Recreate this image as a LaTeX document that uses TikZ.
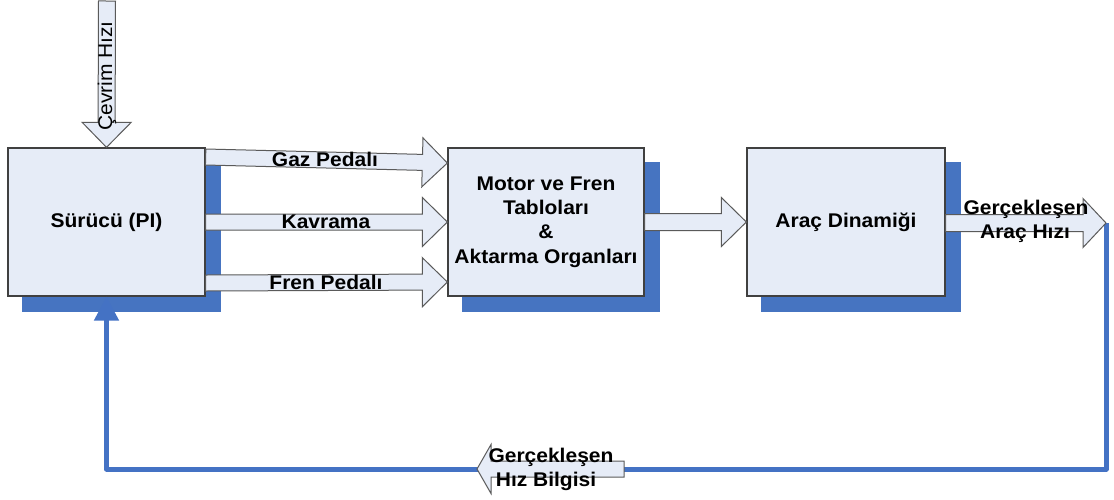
\documentclass[tikz,border=0pt]{standalone}
\usepackage{fontspec}
\setmainfont{Liberation Sans}[FakeStretch=1.06]
\usetikzlibrary{calc,arrows.meta,backgrounds}
\definecolor{boxfill}{HTML}{E6ECF7}
\definecolor{boxline}{HTML}{404040}
\definecolor{arrline}{HTML}{5A5A5A}
\definecolor{fbblue}{HTML}{4472C4}
\definecolor{shadowblue}{HTML}{4674C1}
\tikzset{
  box/.style={draw=boxline, fill=boxfill, line width=1.3pt, align=center,
    font=\bfseries\fontsize{19.8}{24.3}\selectfont, inner sep=0pt},
  shadowbox/.style={fill=shadowblue},
  blockarrow/.style={draw=arrline, fill=boxfill, line width=1pt, line join=miter},
  lbl/.style={font=\bfseries\fontsize{19.8}{24.3}\selectfont, inner sep=0pt, align=center},
  vlbl/.style={font=\fontsize{19.8}{24.3}\selectfont, inner sep=0pt, rotate=90},
  fb/.style={draw=fbblue, line width=5pt, line join=round,
    -{Triangle[length=24pt,width=24pt]}}
}
\newcommand\blockarr[5]{%
  \coordinate (bh) at ($(#2)!#5!(#1)$);
  \filldraw[blockarrow] ($(#1)!#3!90:(#2)$) -- ($(bh)!#3!90:(#2)$) -- ($(bh)!#4!90:(#2)$)
    -- (#2) -- ($(bh)!#4!-90:(#2)$) -- ($(bh)!#3!-90:(#2)$) -- ($(#1)!#3!-90:(#2)$) -- cycle;}
\begin{document}
\begin{tikzpicture}[x=1pt,y=-1pt]
\useasboundingbox (0,0) rectangle (1114,499);
% boxes
\node[box, minimum width=197pt, minimum height=148pt] (s) at (106.5,222) {Sürücü (PI)};
\node[box, minimum width=196pt, minimum height=148pt] (m) at (546,222)
  {Motor ve Fren\\Tabloları\\\&\\Aktarma Organları};
\node[box, minimum width=198pt, minimum height=148pt] (a) at (846,222) {Araç Dinamiği};
% shadows
\begin{scope}[on background layer]
\fill[shadowbox] ($(s.north west)+(15,15)$) rectangle ($(s.south east)+(15,15)$);
\fill[shadowbox] ($(m.north west)+(15,15)$) rectangle ($(m.south east)+(15,15)$);
\fill[shadowbox] ($(a.north west)+(15,15)$) rectangle ($(a.south east)+(15,15)$);
\end{scope}
% coordinates
\coordinate (cvA) at (107,1);
\coordinate (cvB) at (s.north);
\coordinate (gzA) at (s.east |- 0,157);
\coordinate (gzB) at (m.west |- 0,163);
\coordinate (kvA) at (s.east |- 0,222);
\coordinate (kvB) at (m.west |- 0,222);
\coordinate (frA) at (s.east |- 0,283);
\coordinate (frB) at (m.west |- 0,282);
\coordinate (mA) at (m.east);
\coordinate (mB) at (a.west);
\coordinate (oA) at (a.east |- 0,223);
\coordinate (outtip) at (1106,223);
\coordinate (fbrow) at (0,469);
\coordinate (fbA) at (624,469);
\coordinate (fbB) at (477,469);
% feedback line
\draw[fb] (outtip) |- (fbrow -| s.south) -- (s.south);
% block arrows
\blockarr{cvA}{cvB}{8.5pt}{24.5pt}{25pt}
\blockarr{gzA}{gzB}{8pt}{24.5pt}{25pt}
\blockarr{kvA}{kvB}{8pt}{24.5pt}{25pt}
\blockarr{frA}{frB}{8pt}{24.5pt}{25pt}
\blockarr{mA}{mB}{8.5pt}{24.5pt}{25pt}
\blockarr{oA}{outtip}{8.5pt}{24.5pt}{23pt}
\blockarr{fbA}{fbB}{8pt}{24.5pt}{14pt}
% labels
\node[vlbl] (lcv) at (107,76) {Çevrim Hızı};
\node[lbl] (lgz) at (325,159) {Gaz Pedalı};
\node[lbl] (lkv) at (326,222) {Kavrama};
\node[lbl] (lfr) at (326,282) {Fren Pedalı};
\node[lbl] (lo1) at (1026,209) {Gerçekleşen};
\node[lbl] (lo2) at (1025,234) {Araç Hızı};
\node[lbl] (lf1) at (551,457) {Gerçekleşen};
\node[lbl] (lf2) at (546,481) {Hız Bilgisi};
\end{tikzpicture}
\end{document}
